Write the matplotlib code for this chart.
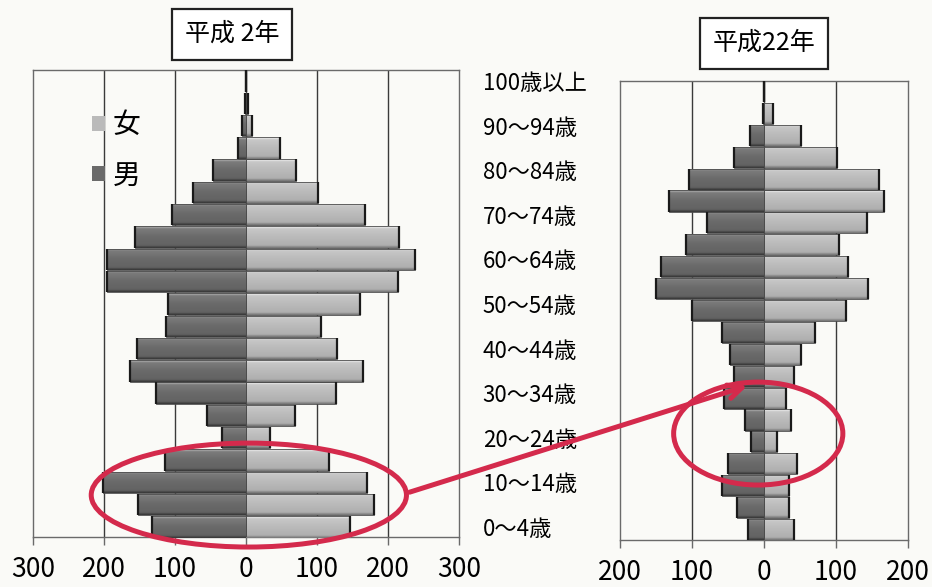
import numpy as np
import matplotlib.pyplot as plt
from matplotlib.colors import LinearSegmentedColormap
from matplotlib.patches import Ellipse, FancyArrowPatch

plt.rcParams['font.family'] = ['Noto Sans CJK JP', 'DejaVu Sans']

# age groups, bottom to top
ages = ['0～4歳', '5～9歳', '10～14歳', '15～19歳', '20～24歳', '25～29歳',
        '30～34歳', '35～39歳', '40～44歳', '45～49歳', '50～54歳', '55～59歳',
        '60～64歳', '65～69歳', '70～74歳', '75～79歳', '80～84歳', '85～89歳',
        '90～94歳', '95～99歳', '100歳以上']

# 平成2年
male_h2 = [133, 152, 202, 114, 34, 55, 127, 164, 154, 112, 110, 196,
           196, 156, 104, 74, 46, 11, 5, 1, 0.5]
female_h2 = [147, 180, 171, 117, 34, 69, 127, 165, 128, 106, 161, 214,
             238, 215, 167, 101, 71, 48, 9, 3, 0.5]

# 平成22年
male_h22 = [22, 38, 59, 50, 18, 26, 55, 42, 47, 59, 100, 150,
            143, 108, 79, 132, 104, 41, 20, 2, 0.5]
female_h22 = [41, 35, 35, 46, 18, 38, 31, 41, 52, 71, 114, 145,
              116, 104, 143, 167, 160, 101, 51, 12, 0.5]

bg = '#fafaf7'
male_cmap = LinearSegmentedColormap.from_list(
    'm', ['#b4b4b4', '#7c7c7c', '#6a6a6a', '#626262', '#3c3c3c'])
female_cmap = LinearSegmentedColormap.from_list(
    'f', ['#f0f0f0', '#c8c8c8', '#bababa', '#aeaeae', '#7c7c7c'])
grad = np.concatenate([np.linspace(0, 0.25, 3), np.linspace(0.3, 0.7, 14),
                       np.linspace(0.75, 1, 3)]).reshape(-1, 1)


def shaded_bars(ax, y, values, sign, cmap, edge_dark):
    bars = ax.barh(y, [sign * v for v in values], height=0.96,
                   color=cmap(0.5), edgecolor='none', zorder=3)
    for p in bars.patches:
        x0, y0 = p.get_x(), p.get_y()
        w, h = p.get_width(), p.get_height()
        im = ax.imshow(grad, cmap=cmap, vmin=0, vmax=1, aspect='auto',
                       extent=[x0, x0 + w, y0, y0 + h], zorder=3.5,
                       interpolation='bilinear')
        im.set_clip_path(p)
    # outline and dark outer end of each bar
    ax.barh(y, [sign * v for v in values], height=0.96, fill=False,
            edgecolor='#4a4a4a', linewidth=0.6, zorder=4)
    ends = [sign * v for v in values]
    ax.vlines(ends, np.array(y) - 0.48, np.array(y) + 0.48,
              color=edge_dark, linewidth=1.6, zorder=4.5)
    return bars


def pyramid(ax, male, female, lim, step, ylim):
    y = np.arange(len(ages))
    m = shaded_bars(ax, y, male, -1, male_cmap, '#1a1a1a')
    f = shaded_bars(ax, y, female, 1, female_cmap, '#1a1a1a')
    ax.set_facecolor(bg)
    ax.set_xlim(-lim, lim)
    ax.set_ylim(*ylim)
    ticks = np.arange(-lim, lim + 1, step)
    ax.set_xticks(ticks)
    ax.set_xticklabels([str(abs(int(t))) for t in ticks], fontsize=19)
    for t in ticks[1:-1]:
        ax.axvline(t, color='#3a3a3a', linewidth=1.0, zorder=1)
    for s in ax.spines.values():
        s.set_color('#6a6a6a')
        s.set_linewidth(1.0)
    ax.tick_params(axis='x', direction='out', length=6, width=1,
                   color='#6a6a6a', pad=8)
    return m, f


fig = plt.figure(figsize=(9.32, 5.87), dpi=100, facecolor=bg)
ax1 = fig.add_axes([33 / 932, 50 / 587, 426 / 932, 467 / 587])
ax2 = fig.add_axes([620 / 932, 47 / 587, 288 / 932, 459 / 587])

m1, f1 = pyramid(ax1, male_h2, female_h2, 300, 100, (-0.45, 20.49))
m2, f2 = pyramid(ax2, male_h22, female_h22, 200, 100, (-0.48, 20.48))

# age labels between the two pyramids
ax1.yaxis.tick_right()
ax1.set_yticks(np.arange(0, len(ages), 2))
ax1.set_yticklabels(ages[::2], fontsize=16)
ax1.tick_params(axis='y', length=0, pad=17)
ax2.set_yticks([])

ax1.legend([f1, m1], ['女', '男'], loc='upper left',
           bbox_to_anchor=(0.08, 0.968), frameon=False, fontsize=20,
           handlelength=0.45, handleheight=0.45, handletextpad=0.3,
           labelspacing=0.75)

box = dict(boxstyle='square,pad=0.5', facecolor='white',
           edgecolor='#222222', linewidth=1.6)
fig.text(232 / 932, 1 - 34 / 587, '平成 2年', fontsize=18, ha='center',
         va='center', bbox=box)
fig.text(764 / 932, 1 - 43 / 587, '平成22年', fontsize=18, ha='center',
         va='center', bbox=box)

# red marks around the young age groups
red = '#d42a4c'
ax1.add_patch(Ellipse((4, 1.43), 444, 4.66, fill=False, edgecolor=red,
                      linewidth=3.6, zorder=6, clip_on=False))
ax2.add_patch(Ellipse((-8, 4.38), 235, 4.7, fill=False, edgecolor=red,
                      linewidth=3.6, zorder=6, clip_on=False))
fig.add_artist(FancyArrowPatch((407 / 932, 1 - 493 / 587),
                               (750 / 932, 1 - 385 / 587),
                               transform=fig.transFigure,
                               arrowstyle='->,head_length=10,head_width=5',
                               color=red, linewidth=3.6, zorder=7))

fig.savefig('out.png', dpi=100, facecolor=bg)
